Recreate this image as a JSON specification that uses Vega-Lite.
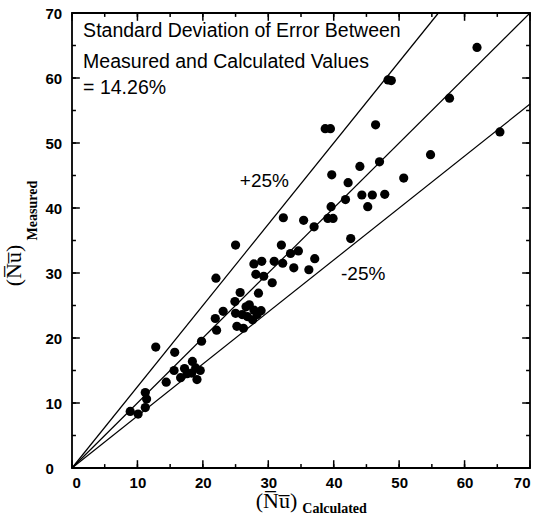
{
  "$schema": "https://vega.github.io/schema/vega-lite/v6.json",
  "width": 458,
  "height": 455,
  "autosize": {"type": "none"},
  "padding": {"left": 72, "top": 13, "right": 7, "bottom": 61},
  "config": {
    "view": {"stroke": "black", "strokeWidth": 1.8},
    "axis": {"grid": false, "domain": false, "ticks": false,
      "labelFont": "Liberation Sans", "labelFontSize": 15, "labelFontWeight": "bold", "labelColor": "black",
      "titleFont": "Liberation Serif", "titleFontSize": 22, "titleFontWeight": "normal", "titleColor": "black"}
  },
  "datasets": {
    "ticks": [
      {"v": 0, "kind": "major"}, {"v": 5, "kind": "minor"}, {"v": 10, "kind": "major"}, {"v": 15, "kind": "minor"},
      {"v": 20, "kind": "major"}, {"v": 25, "kind": "minor"}, {"v": 30, "kind": "major"}, {"v": 35, "kind": "minor"},
      {"v": 40, "kind": "major"}, {"v": 45, "kind": "minor"}, {"v": 50, "kind": "major"}, {"v": 55, "kind": "minor"},
      {"v": 60, "kind": "major"}, {"v": 65, "kind": "minor"}, {"v": 70, "kind": "major"}
    ]
  },
  "layer": [
    {
      "data": {"values": [
        {"line": "p", "x": 0, "y": 0}, {"line": "p", "x": 56, "y": 70},
        {"line": "e", "x": 0, "y": 0}, {"line": "e", "x": 70, "y": 70},
        {"line": "m", "x": 0, "y": 0}, {"line": "m", "x": 70, "y": 56}
      ]},
      "mark": {"type": "line", "color": "black", "strokeWidth": 1.2},
      "encoding": {
        "x": {"field": "x", "type": "quantitative", "scale": {"domain": [0, 70], "nice": false},
          "axis": {"orient": "bottom", "title": "(N\u0305u\u0305)", "titleX": 204, "titleY": 32, "titleBaseline": "middle",
            "values": [0,10,20,30,40,50,60,70], "labelPadding": 7}},
        "y": {"field": "y", "type": "quantitative", "scale": {"domain": [0, 70], "nice": false},
          "axis": {"orient": "left", "title": "(N\u0305u\u0305)", "titleX": -59, "titleY": 252, "titleBaseline": "middle", "titleAlign": "center", "titleAngle": 270,
            "values": [0,10,20,30,40,50,60,70], "labelAlign": "left", "labelPadding": 27}},
        "detail": {"field": "line"}
      }
    },
    {
      "data": {"name": "ticks"},
      "mark": {"type": "rule", "color": "black", "strokeWidth": 1.5},
      "encoding": {
        "x": {"field": "v", "type": "quantitative"},
        "y": {"datum": 0, "type": "quantitative"},
        "y2": {"datum": 0.6}
      }
    },
    {
      "data": {"name": "ticks"},
      "transform": [{"filter": "datum.kind === 'major'"}],
      "mark": {"type": "rule", "color": "black", "strokeWidth": 1.5},
      "encoding": {
        "x": {"field": "v", "type": "quantitative"},
        "y": {"datum": 0, "type": "quantitative"},
        "y2": {"datum": 1.2}
      }
    },
    {
      "data": {"name": "ticks"},
      "mark": {"type": "rule", "color": "black", "strokeWidth": 1.5},
      "encoding": {
        "x": {"field": "v", "type": "quantitative"},
        "y": {"datum": 70, "type": "quantitative"},
        "y2": {"datum": 69.4}
      }
    },
    {
      "data": {"name": "ticks"},
      "transform": [{"filter": "datum.kind === 'major'"}],
      "mark": {"type": "rule", "color": "black", "strokeWidth": 1.5},
      "encoding": {
        "x": {"field": "v", "type": "quantitative"},
        "y": {"datum": 70, "type": "quantitative"},
        "y2": {"datum": 68.8}
      }
    },
    {
      "data": {"name": "ticks"},
      "mark": {"type": "rule", "color": "black", "strokeWidth": 1.5},
      "encoding": {
        "y": {"field": "v", "type": "quantitative"},
        "x": {"datum": 0, "type": "quantitative"},
        "x2": {"datum": 0.6}
      }
    },
    {
      "data": {"name": "ticks"},
      "transform": [{"filter": "datum.kind === 'major'"}],
      "mark": {"type": "rule", "color": "black", "strokeWidth": 1.5},
      "encoding": {
        "y": {"field": "v", "type": "quantitative"},
        "x": {"datum": 0, "type": "quantitative"},
        "x2": {"datum": 1.2}
      }
    },
    {
      "data": {"name": "ticks"},
      "mark": {"type": "rule", "color": "black", "strokeWidth": 1.5},
      "encoding": {
        "y": {"field": "v", "type": "quantitative"},
        "x": {"datum": 70, "type": "quantitative"},
        "x2": {"datum": 69.4}
      }
    },
    {
      "data": {"name": "ticks"},
      "transform": [{"filter": "datum.kind === 'major'"}],
      "mark": {"type": "rule", "color": "black", "strokeWidth": 1.5},
      "encoding": {
        "y": {"field": "v", "type": "quantitative"},
        "x": {"datum": 70, "type": "quantitative"},
        "x2": {"datum": 68.8}
      }
    },
    {
      "data": {"values": [
        {"x": 61.9, "y": 64.7}, {"x": 48.3, "y": 59.7}, {"x": 48.8, "y": 59.6}, {"x": 57.7, "y": 56.9},
        {"x": 38.7, "y": 52.2}, {"x": 39.5, "y": 52.2}, {"x": 46.4, "y": 52.8}, {"x": 65.4, "y": 51.7},
        {"x": 54.8, "y": 48.2}, {"x": 47.0, "y": 47.1}, {"x": 44.0, "y": 46.4}, {"x": 39.7, "y": 45.1},
        {"x": 50.7, "y": 44.6}, {"x": 42.2, "y": 43.9}, {"x": 41.8, "y": 41.3}, {"x": 44.3, "y": 42.0},
        {"x": 45.9, "y": 42.0}, {"x": 47.8, "y": 42.1}, {"x": 45.2, "y": 40.2}, {"x": 39.6, "y": 40.2},
        {"x": 39.1, "y": 38.4}, {"x": 39.9, "y": 38.4}, {"x": 35.4, "y": 38.1}, {"x": 32.3, "y": 38.5},
        {"x": 37.0, "y": 37.1}, {"x": 42.6, "y": 35.3}, {"x": 32.0, "y": 34.3}, {"x": 25.0, "y": 34.3},
        {"x": 34.6, "y": 33.4}, {"x": 33.4, "y": 33.0}, {"x": 37.1, "y": 32.2}, {"x": 36.2, "y": 30.5},
        {"x": 33.9, "y": 30.8}, {"x": 30.9, "y": 31.8}, {"x": 32.2, "y": 31.5}, {"x": 29.0, "y": 31.8},
        {"x": 27.8, "y": 31.4}, {"x": 30.6, "y": 28.5}, {"x": 28.1, "y": 29.8}, {"x": 29.3, "y": 29.5},
        {"x": 28.5, "y": 26.9}, {"x": 22.0, "y": 29.2}, {"x": 25.7, "y": 27.0}, {"x": 24.9, "y": 25.6},
        {"x": 27.1, "y": 25.1}, {"x": 27.8, "y": 24.3}, {"x": 26.6, "y": 24.8}, {"x": 23.1, "y": 24.1},
        {"x": 21.9, "y": 23.0}, {"x": 25.0, "y": 23.8}, {"x": 26.0, "y": 23.6}, {"x": 28.9, "y": 24.2},
        {"x": 26.8, "y": 23.3}, {"x": 27.6, "y": 22.8}, {"x": 28.3, "y": 23.6}, {"x": 25.2, "y": 21.8},
        {"x": 26.2, "y": 21.5}, {"x": 22.1, "y": 21.2}, {"x": 19.8, "y": 19.5}, {"x": 12.8, "y": 18.6},
        {"x": 15.7, "y": 17.8}, {"x": 18.4, "y": 16.4}, {"x": 15.6, "y": 15.0}, {"x": 16.6, "y": 13.9},
        {"x": 17.6, "y": 14.5}, {"x": 17.2, "y": 15.3}, {"x": 18.9, "y": 15.4}, {"x": 19.6, "y": 15.0},
        {"x": 19.1, "y": 13.6}, {"x": 18.3, "y": 14.6}, {"x": 14.4, "y": 13.2}, {"x": 11.2, "y": 11.6},
        {"x": 11.4, "y": 10.6}, {"x": 11.2, "y": 9.3}, {"x": 8.9, "y": 8.7}, {"x": 10.1, "y": 8.3}
      ]},
      "mark": {"type": "circle", "color": "black", "opacity": 1, "size": 85},
      "encoding": {
        "x": {"field": "x", "type": "quantitative"},
        "y": {"field": "y", "type": "quantitative"}
      }
    },
    {
      "data": {"values": [
        {"x": 1.7, "y": 67.2, "label": "Standard Deviation of Error Between"},
        {"x": 1.7, "y": 62.4, "label": "Measured and Calculated Values"},
        {"x": 1.7, "y": 58.5, "label": "= 14.26%"}
      ]},
      "mark": {"type": "text", "align": "left", "baseline": "middle", "font": "Liberation Sans", "fontSize": 19.5, "color": "black"},
      "encoding": {
        "x": {"field": "x", "type": "quantitative"},
        "y": {"field": "y", "type": "quantitative"},
        "text": {"field": "label"}
      }
    },
    {
      "data": {"values": [
        {"x": 29.4, "y": 44.1, "label": "+25%"},
        {"x": 44.5, "y": 29.9, "label": "-25%"}
      ]},
      "mark": {"type": "text", "align": "center", "baseline": "middle", "font": "Liberation Sans", "fontSize": 19, "color": "black"},
      "encoding": {
        "x": {"field": "x", "type": "quantitative"},
        "y": {"field": "y", "type": "quantitative"},
        "text": {"field": "label"}
      }
    },
    {
      "data": {"values": [{"x": 35.2, "y": -6.3, "label": "Calculated"}]},
      "mark": {"type": "text", "align": "left", "baseline": "middle", "font": "Liberation Serif", "fontSize": 14, "fontWeight": "bold", "color": "black"},
      "encoding": {
        "x": {"field": "x", "type": "quantitative"},
        "y": {"field": "y", "type": "quantitative"},
        "text": {"field": "label"}
      }
    },
    {
      "data": {"values": [{"x": -5.96, "y": 39.6, "label": "Measured"}]},
      "mark": {"type": "text", "align": "center", "baseline": "middle", "angle": 270, "font": "Liberation Serif", "fontSize": 14, "fontWeight": "bold", "color": "black"},
      "encoding": {
        "x": {"field": "x", "type": "quantitative"},
        "y": {"field": "y", "type": "quantitative"},
        "text": {"field": "label"}
      }
    }
  ]
}
